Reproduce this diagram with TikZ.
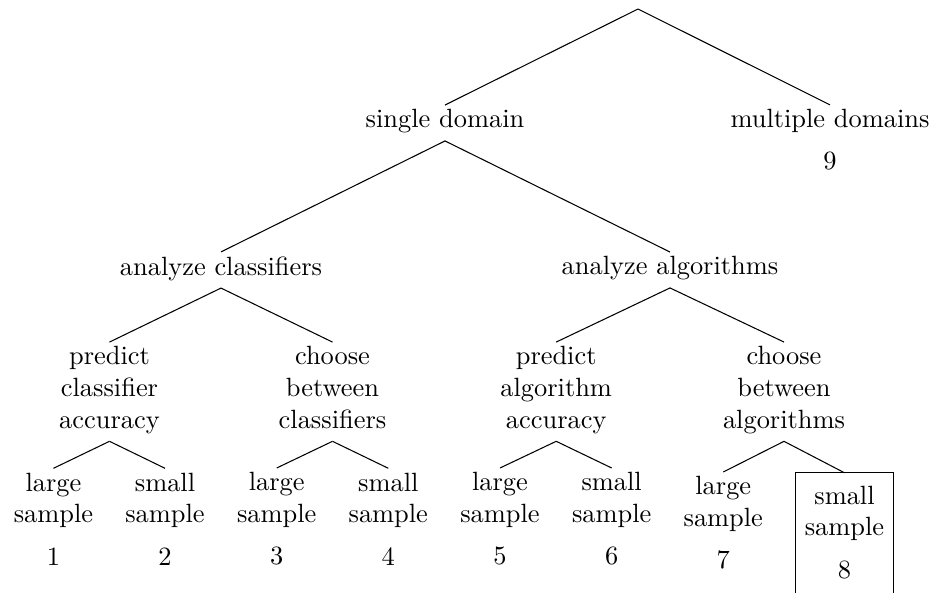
\documentclass[tikz,border=0pt]{standalone}
\begin{document}
\begin{tikzpicture}[x=0.3788pt,y=-0.3788pt,
  lbl/.style={align=center, inner sep=1.5pt},
  pick/.style={align=center, inner xsep=3.33pt, inner ysep=4.8pt},
  branch/.style={line width=0.4pt}]
\clip (0,0) rectangle (934,593);

% root of the taxonomy
\coordinate (root) at (638,9);

% first level
\node[lbl] (sd) at (445,121.4) {single domain};
\node[lbl] (md) at (830,139.9) {multiple domains\\[4pt]9};

% second level
\node[lbl] (ac) at (221,268.4) {analyze classifiers};
\node[lbl] (aa) at (670,268.4) {analyze algorithms};

% third level
\node[lbl] (pca) at (109.5,390.1) {predict\\classifier\\accuracy};
\node[lbl] (cbc) at (332.5,390.1) {choose\\between\\classifiers\vphantom{y}};
\node[lbl] (paa) at (556.2,390.1) {predict\\algorithm\\accuracy};
\node[lbl] (cba) at (784,390.1) {choose\\between\\algorithms};

% leaves
\node[lbl] (l1) at (53.5,518.9) {large\\sample\\[4pt]1};
\node[lbl] (l2) at (165,518.9) {small\\sample\\[4pt]2};
\node[lbl] (l3) at (276.7,518.9) {large\\sample\\[4pt]3};
\node[lbl] (l4) at (388.3,518.9) {small\\sample\\[4pt]4};
\node[lbl] (l5) at (500,518.9) {large\\sample\\[4pt]5};
\node[lbl] (l6) at (611.7,518.9) {small\\sample\\[4pt]6};
\node[lbl] (l7) at (723.3,522.9) {large\\sample\\[4pt]7};
\node[pick] (l8) at (844.5,532.4) {small\\sample\\[4pt]8};

% open frame around the highlighted leaf
\draw[branch] ([yshift=-12pt]l8.south west) -- (l8.north west)
  -- (l8.north east) -- ([yshift=-12pt]l8.south east);

% branches
\draw[branch] (root) -- (sd.north);
\draw[branch] (root) -- (md.north);
\draw[branch] ([yshift=-1.2pt]sd.south) -- (ac.north);
\draw[branch] ([yshift=-1.2pt]sd.south) -- (aa.north);
\draw[branch] ([yshift=-1.2pt]ac.south) -- (pca.north);
\draw[branch] ([yshift=-1.2pt]ac.south) -- (cbc.north);
\draw[branch] ([yshift=-1.2pt]aa.south) -- (paa.north);
\draw[branch] ([yshift=-1.2pt]aa.south) -- (cba.north);
\draw[branch] ([yshift=-1.2pt]pca.south) -- (l1.north);
\draw[branch] ([yshift=-1.2pt]pca.south) -- (l2.north);
\draw[branch] ([yshift=-1.2pt]cbc.south) -- (l3.north);
\draw[branch] ([yshift=-1.2pt]cbc.south) -- (l4.north);
\draw[branch] ([yshift=-1.2pt]paa.south) -- (l5.north);
\draw[branch] ([yshift=-1.2pt]paa.south) -- (l6.north);
\draw[branch] ([yshift=-1.2pt]cba.south) -- (l7.north);
\draw[branch] ([yshift=-1.2pt]cba.south) -- (l8.north);
\end{tikzpicture}
\end{document}
